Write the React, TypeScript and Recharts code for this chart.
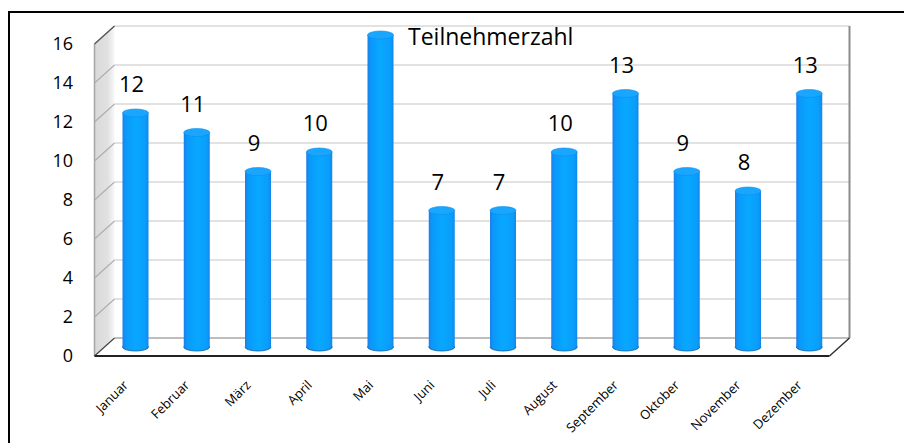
import React from "react";
import {
  BarChart,
  Bar,
  XAxis,
  YAxis,
  ReferenceArea,
  LabelList,
} from "recharts";

const months = [
  "Januar",
  "Februar",
  "März",
  "April",
  "Mai",
  "Juni",
  "Juli",
  "August",
  "September",
  "Oktober",
  "November",
  "Dezember",
];
const values = [12, 11, 9, 10, 16, 7, 7, 10, 13, 9, 8, 13];
const valueLabels = ["12", "11", "9", "10", "", "7", "7", "10", "13", "9", "8", "13"];
const yTicks = [0, 2, 4, 6, 8, 10, 12, 14, 16];
const title = "Teilnehmerzahl";

const data = months.map((m, i) => ({ month: m, value: values[i], label: valueLabels[i] }));

const FONT = "'Open Sans', 'Liberation Sans', sans-serif";
const DX = 10; // depth offset x
const DY = 9; // depth offset y

const Walls = (p: any) => {
  const x = Number(p.x), y = Number(p.y), h = Number(p.height);
  const b = y + h;
  return (
    <g>
      <defs>
        <linearGradient id="sideWall" x1="0" y1="0" x2="1" y2="0">
          <stop offset="0%" stopColor="#000" stopOpacity={0.15} />
          <stop offset="65%" stopColor="#000" stopOpacity={0.12} />
          <stop offset="100%" stopColor="#000" stopOpacity={0.03} />
        </linearGradient>
      </defs>
      <polygon
        points={`${x - DX},${y + DY} ${x + DX},${y - DY} ${x + DX},${b - DY} ${x - DX},${b + DY}`}
        fill="url(#sideWall)"
      />
      <text x={408} y={45} fontSize={23} fontFamily={FONT} fill="#000">
        {title}
      </text>
    </g>
  );
};

// grid line at the top edge of an area spanning 0..tick
const GridStep = (p: any) => {
  const x = Number(p.x), y = Number(p.y), w = Number(p.width);
  return (
    <g fill="none">
      <line x1={x + DX} y1={y - DY} x2={x + w + DX} y2={y - DY} stroke="#d9d9d9" strokeWidth={1.3} />
      <line x1={x - DX} y1={y + DY} x2={x + DX} y2={y - DY} stroke="#adadad" strokeWidth={1.1} />
    </g>
  );
};

const Edges = (p: any) => {
  const x = Number(p.x), y = Number(p.y), w = Number(p.width), h = Number(p.height);
  const b = y + h;
  return (
    <g fill="none">
      <line x1={x - DX} y1={y + DY} x2={x - DX} y2={b + DY} stroke="#a6a6a6" strokeWidth={1.5} />
      <line x1={x + DX} y1={b - DY} x2={x + w + DX} y2={b - DY} stroke="#a8a8a8" strokeWidth={1.5} />
      <line x1={x + w + DX} y1={y - DY} x2={x + w + DX} y2={b - DY} stroke="#8c8c8c" strokeWidth={2} />
      <line x1={x - DX} y1={y + DY} x2={x + DX} y2={y - DY} stroke="#555" strokeWidth={1.2} />
      <line x1={x - DX} y1={b + DY} x2={x + DX} y2={b - DY} stroke="#444" strokeWidth={1.2} />
      <line x1={x + w - DX} y1={b + DY} x2={x + w + DX} y2={b - DY} stroke="#333" strokeWidth={1.5} />
      <line x1={x - DX} y1={b + DY} x2={x + w - DX} y2={b + DY} stroke="#222" strokeWidth={2} />
    </g>
  );
};

const YTick = (p: any) => {
  const { x, y, payload } = p;
  return (
    <text
      x={Number(x) - 31.5}
      y={Number(y) + DY}
      dy="0.36em"
      textAnchor="end"
      fontSize={18}
      fontFamily={FONT}
      fill="#000"
    >
      {payload.value}
    </text>
  );
};

const XTick = (p: any) => {
  const { x, y, payload } = p;
  const tx = Number(x) - 6;
  const ty = Number(y) + 39;
  return (
    <text
      x={tx}
      y={ty}
      textAnchor="end"
      fontSize={13}
      fontFamily={FONT}
      fill="#000"
      transform={`rotate(-45, ${tx}, ${ty})`}
    >
      {payload.value}
    </text>
  );
};

const Cylinder = (p: any) => {
  const x = Number(p.x), y = Number(p.y), w = Number(p.width), h = Number(p.height);
  const cx = x + w / 2;
  const rx = w / 2;
  const ry = 4;
  const id = `cyl-${p.index}`;
  return (
    <g>
      <defs>
        <linearGradient id={id} x1="0" y1="0" x2="1" y2="0">
          <stop offset="0%" stopColor="#1f7ee6" />
          <stop offset="12%" stopColor="#0a98fa" />
          <stop offset="50%" stopColor="#08a8ff" />
          <stop offset="88%" stopColor="#0a9dfb" />
          <stop offset="100%" stopColor="#1386e8" />
        </linearGradient>
      </defs>
      <ellipse cx={cx} cy={y + h} rx={rx} ry={ry} fill={`url(#${id})`} stroke="#0a5aa8" strokeWidth={0.8} />
      <rect x={x} y={y} width={w} height={h} fill={`url(#${id})`} />
      <ellipse cx={cx} cy={y} rx={rx} ry={ry} fill="#1aa6ff" stroke="#0b8fec" strokeWidth={0.6} />
    </g>
  );
};

const ValueLabel = (p: any) => {
  const { x, y, width, value } = p;
  if (!value) return null;
  return (
    <text
      x={Number(x) + Number(width) / 2 - 4}
      y={Number(y) - 21}
      textAnchor="middle"
      fontSize={22}
      fontFamily={FONT}
      fill="#000"
    >
      {value}
    </text>
  );
};

export default function App() {
  return (
    <div
      style={{
        position: "absolute",
        left: 0,
        top: 0,
        width: 904,
        height: 443,
        overflow: "hidden",
        background: "#fff",
      }}
    >
      <div
        style={{
          position: "absolute",
          left: 8,
          top: 11,
          width: 1200,
          height: 1200,
          borderLeft: "2px solid #000",
          borderTop: "2px solid #000",
        }}
      />
      <div style={{ position: "absolute", left: 0, top: 0 }}>
        <BarChart
          width={904}
          height={443}
          data={data}
          margin={{ top: 35, right: 64.5, bottom: 36, left: 44.5 }}
          barSize={26}
        >
          <ReferenceArea y1={0} y2={16} shape={<Walls />} zIndex={-200} />
          {yTicks
            .filter((t) => t > 0)
            .map((t) => (
              <ReferenceArea key={`grid-${t}`} y1={0} y2={t} shape={<GridStep />} zIndex={-100} />
            ))}
          <ReferenceArea y1={0} y2={16} shape={<Edges />} zIndex={-50} />
          <XAxis
            dataKey="month"
            height={60}
            interval={0}
            tickSize={0}
            tickMargin={0}
            axisLine={false}
            tickLine={false}
            tick={<XTick />}
          />
          <YAxis
            width={60}
            domain={[0, 16]}
            ticks={yTicks}
            interval={0}
            tickSize={0}
            tickMargin={0}
            axisLine={false}
            tickLine={false}
            tick={<YTick />}
          />
          <Bar dataKey="value" isAnimationActive={false} shape={<Cylinder />}>
            <LabelList dataKey="label" content={<ValueLabel />} />
          </Bar>
        </BarChart>
      </div>
    </div>
  );
}
